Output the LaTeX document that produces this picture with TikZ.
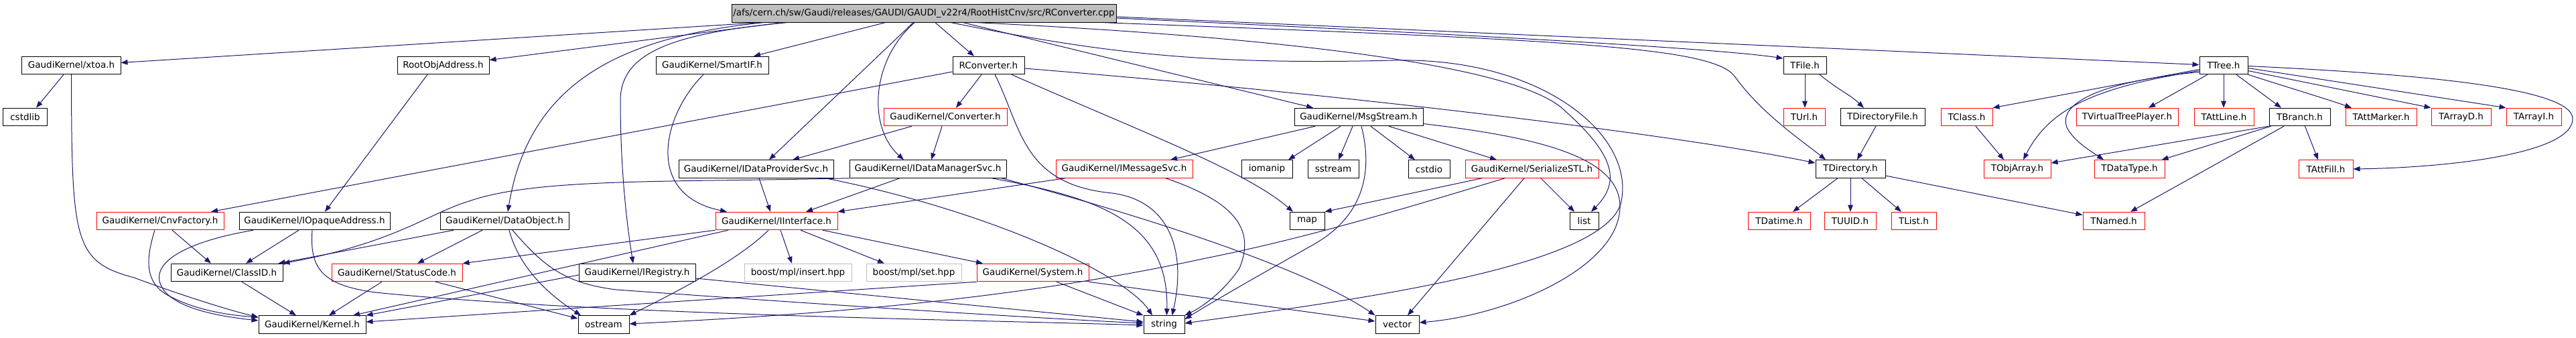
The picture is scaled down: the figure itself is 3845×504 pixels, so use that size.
\documentclass[tikz,border=0pt]{standalone}
\usepackage{fontspec}
\setmainfont{DejaVu Sans}
\usetikzlibrary{arrows.meta}
\definecolor{edgec}{HTML}{191970}
\definecolor{rootfill}{HTML}{BFBFBF}
\definecolor{grayb}{HTML}{BFBFBF}
\definecolor{redb}{HTML}{FF0000}
\begin{document}
\begin{tikzpicture}[x=1bp,y=-1bp,
  box/.style={draw=black,fill=white,line width=1bp,inner sep=0pt,minimum height=26.5bp,
    font=\fontsize{13.5bp}{16bp}\selectfont,text=black},
  redbox/.style={box,draw=redb},
  graybox/.style={box,draw=grayb},
  rootbox/.style={box,fill=rootfill},
  e/.style={draw=edgec,line width=1bp,-{Triangle[length=10bp,width=7.5bp]},fill=none}]
\fill[white] (0,0) rectangle (3845,504);
\useasboundingbox (0,0) rectangle (3845,504);
% row 0
\node[rootbox,minimum width=574bp] (root) at (1379,20) {/afs/cern.ch/sw/Gaudi/releases/GAUDI/GAUDI\_v22r4/RootHistCnv/src/RConverter.cpp};
% row 1
\node[box,minimum width=147bp] (xtoa) at (106.5,97.5) {GaudiKernel/xtoa.h};
\node[box,minimum width=137bp] (roa) at (661.5,97.5) {RootObjAddress.h};
\node[box,minimum width=168bp] (smartif) at (1063,97.5) {GaudiKernel/SmartIF.h};
\node[box,minimum width=107bp] (rch) at (1475.5,97.5) {RConverter.h};
\node[box,minimum width=64bp] (tfile) at (2694,97.5) {TFile.h};
\node[box,minimum width=72bp] (ttree) at (3319,97.5) {TTree.h};
% row 2
\node[box,minimum width=65bp] (cstdlib) at (37.5,174.5) {cstdlib};
\node[redbox,minimum width=184bp] (conv) at (1411,174.5) {GaudiKernel/Converter.h};
\node[box,minimum width=192bp] (msg) at (2028,174.5) {GaudiKernel/MsgStream.h};
\node[redbox,minimum width=62bp] (turl) at (2693,174.5) {TUrl.h};
\node[box,minimum width=126bp] (tdirf) at (2810,174.5) {TDirectoryFile.h};
\node[redbox,minimum width=77bp] (tclass) at (2935.5,174.5) {TClass.h};
\node[redbox,minimum width=152bp] (tvtp) at (3175,174.5) {TVirtualTreePlayer.h};
\node[redbox,minimum width=89bp] (tattline) at (3319.5,174.5) {TAttLine.h};
\node[box,minimum width=91bp] (tbranch) at (3432.5,174.5) {TBranch.h};
\node[redbox,minimum width=106bp] (tattmarker) at (3554,174.5) {TAttMarker.h};
\node[redbox,minimum width=89bp] (tarrayd) at (3673.5,174.5) {TArrayD.h};
\node[redbox,minimum width=82bp] (tarrayi) at (3782,174.5) {TArrayI.h};
% row 3
\node[box,minimum width=231bp] (idp) at (1128.5,252) {GaudiKernel/IDataProviderSvc.h};
\node[box,minimum width=234bp] (idm) at (1385,252) {GaudiKernel/IDataManagerSvc.h};
\node[redbox,minimum width=204bp] (imsg) at (1678,252) {GaudiKernel/IMessageSvc.h};
\node[box,minimum width=76bp] (iomanip) at (1891,252) {iomanip};
\node[box,minimum width=76bp] (sstream) at (1990,252) {sstream};
\node[box,minimum width=62bp] (cstdio) at (2133,252) {cstdio};
\node[redbox,minimum width=199bp] (ser) at (2286.5,252) {GaudiKernel/SerializeSTL.h};
\node[box,minimum width=104bp] (tdir) at (2762,252) {TDirectory.h};
\node[redbox,minimum width=100bp] (tobjarray) at (3011,252) {TObjArray.h};
\node[redbox,minimum width=105bp] (tdatatype) at (3178.5,252) {TDataType.h};
\node[redbox,minimum width=81bp] (tattfill) at (3471.5,252) {TAttFill.h};
% row 4
\node[redbox,minimum width=190bp] (cnvf) at (239,329.5) {GaudiKernel/CnvFactory.h};
\node[box,minimum width=225bp] (iopaque) at (469.5,329.5) {GaudiKernel/IOpaqueAddress.h};
\node[box,minimum width=192bp] (dataobj) at (753,329.5) {GaudiKernel/DataObject.h};
\node[redbox,minimum width=182bp] (iint) at (1159,329.5) {GaudiKernel/IInterface.h};
\node[box,minimum width=52bp] (nmap) at (1951,329.5) {map};
\node[box,minimum width=43bp] (nlist) at (2364.5,329.5) {list};
\node[redbox,minimum width=93bp] (tdatime) at (2655.5,329.5) {TDatime.h};
\node[redbox,minimum width=77bp] (tuuid) at (2761.5,329.5) {TUUID.h};
\node[redbox,minimum width=67bp] (tlist) at (2856.5,329.5) {TList.h};
\node[redbox,minimum width=92bp] (tnamed) at (3155,329.5) {TNamed.h};
% row 5
\node[box,minimum width=167bp] (classid) at (338.5,406.5) {GaudiKernel/ClassID.h};
\node[redbox,minimum width=195bp] (statuscode) at (592.5,406.5) {GaudiKernel/StatusCode.h};
\node[box,minimum width=174bp] (ireg) at (951,406.5) {GaudiKernel/IRegistry.h};
\node[graybox,minimum width=160bp] (bins) at (1191,406.5) {boost/mpl/insert.hpp};
\node[graybox,minimum width=142bp] (bset) at (1364,406.5) {boost/mpl/set.hpp};
\node[redbox,minimum width=167bp] (system) at (1541.5,406.5) {GaudiKernel/System.h};
% row 6
\node[box,minimum width=160bp] (kernel) at (466,484) {GaudiKernel/Kernel.h};
\node[box,minimum width=76bp] (ostream) at (901,484) {ostream};
\node[box,minimum width=61bp] (nstring) at (1737.5,484) {string};
\node[box,minimum width=65bp] (nvector) at (2085.5,484) {vector};

% ---- edges from root
\draw[e] ([xshift=-246bp]root.south) -- ([yshift=4bp]xtoa.east);
\draw[e] ([xshift=-212bp]root.south) -- ([yshift=8bp]roa.east);
\draw[e] ([xshift=-58bp]root.south) -- ([xshift=62bp]smartif.north);
\draw[e] ([xshift=-240bp]root.south) .. controls (930,55) and (790,120) .. ([xshift=5bp]dataobj.north);
\draw[e] ([xshift=-205bp]root.south) .. controls (1000,50) and (926,80) .. (926,150) .. controls (926,250) and (935,330) .. ([xshift=-6bp]ireg.north);
\draw[e] ([xshift=-16bp]root.south) -- ([xshift=19.5bp]idp.north);
\draw[e] ([xshift=-14bp]root.south) .. controls (1300,90) and (1295,190) .. ([xshift=-36bp]idm.north);
\draw[e] ([xshift=17bp]root.south) -- ([xshift=-21.5bp]rch.north);
\draw[e] ([xshift=59bp]root.south) -- ([xshift=-68bp]msg.north);
\draw[e] ([yshift=-7bp]root.east) .. controls (2200,52) and (2560,72) .. ([yshift=10.5bp]tfile.west);
\draw[e] ([yshift=-5bp]root.east) -- ([yshift=1bp]ttree.west);
\draw[e] ([xshift=270bp]root.south) .. controls (2350,60) and (2560,70) .. (2590,115) .. controls (2630,170) and (2690,210) .. ([xshift=-37bp]tdir.north);
\draw[e] ([xshift=81bp]root.south) .. controls (1900,55) and (2250,95) .. (2330,160) .. controls (2410,230) and (2420,270) .. ([xshift=10.5bp]nlist.north);
\draw[e] ([xshift=41bp]root.south) .. controls (1650,80) and (1800,97) .. (2080,90) .. controls (2300,85) and (2440,200) .. (2420,300) .. controls (2400,400) and (2000,450) .. ([yshift=2bp]nstring.east);
% ---- RConverter.h
\draw[e] ([yshift=-9.5bp]rch.west) -- ([xshift=76bp]cnvf.north);
\draw[e] ([xshift=-10.5bp]rch.south) -- ([xshift=16bp]conv.north);
\draw[e] ([xshift=9.5bp]rch.south) .. controls (1525,190) and (1525,275) .. (1660,288) .. controls (1750,300) and (1770,380) .. ([xshift=12bp]nstring.north);
\draw[e] ([xshift=34.5bp]rch.south) .. controls (1700,195) and (1860,255) .. ([xshift=-21bp]nmap.north);
\draw[e] ([yshift=-4.5bp]rch.east) .. controls (2000,140) and (2500,200) .. ([yshift=9bp]tdir.west);
% ---- Converter.h
\draw[e] ([xshift=-50bp]conv.south) -- ([xshift=54.5bp]idp.north);
\draw[e] ([xshift=-5bp]conv.south) -- ([xshift=5bp]idm.north);
% ---- SmartIF, RootObjAddress, xtoa
\draw[e] ([xshift=-13bp]smartif.south) .. controls (990,170) and (960,290) .. ([xshift=-74bp]iint.north);
\draw[e] ([xshift=-23.5bp]roa.south) -- ([xshift=15.5bp]iopaque.north);
\draw[e] ([xshift=-11.5bp]xtoa.south) -- ([xshift=16.5bp]cstdlib.north);
\draw[e] (xtoa.south) .. controls (107,360) and (110,390) .. (200,414) .. controls (270,440) and (340,462) .. ([yshift=11bp]kernel.west);
% ---- CnvFactory
\draw[e] ([xshift=-8bp]cnvf.south) .. controls (218,385) and (215,420) .. (250,440) .. controls (290,462) and (340,470) .. ([yshift=11bp]kernel.west);
\draw[e] ([xshift=18bp]cnvf.south) -- ([xshift=-23.5bp]classid.north);
% ---- IOpaqueAddress
\draw[e] ([xshift=-91.5bp]iopaque.south) .. controls (280,360) and (225,390) .. (240,425) .. controls (255,460) and (330,472) .. ([yshift=6bp]kernel.west);
\draw[e] ([xshift=-23.5bp]iopaque.south) -- ([xshift=28.5bp]classid.north);
\draw[e] ([xshift=-3.5bp]iopaque.south) .. controls (462,400) and (480,425) .. (560,436) .. controls (900,470) and (1500,478) .. ([yshift=-1bp]nstring.west);
% ---- ClassID, StatusCode
\draw[e] ([xshift=22.5bp]classid.south) -- ([xshift=-24bp]kernel.north);
\draw[e] ([xshift=-22.5bp]statuscode.south) -- ([xshift=25bp]kernel.north);
\draw[e] ([xshift=57.5bp]statuscode.south) -- ([yshift=9bp]ostream.west);
% ---- DataObject
\draw[e] ([xshift=-76bp]dataobj.south) -- ([xshift=77bp]classid.north);
\draw[e] ([xshift=-33bp]dataobj.south) -- ([xshift=30.5bp]statuscode.north);
\draw[e] ([xshift=7bp]dataobj.south) .. controls (775,400) and (820,440) .. ([xshift=-34bp]ostream.north);
\draw[e] ([xshift=12bp]dataobj.south) .. controls (810,395) and (840,422) .. (920,432) .. controls (1200,452) and (1500,472) .. ([yshift=2bp]nstring.west);
% ---- IDataManagerSvc -> ClassID
\draw[e] (idm.south west) .. controls (1000,272) and (800,265) .. (700,300) .. controls (640,318) and (590,362) .. (classid.north east);
% ---- IInterface
\draw[e] (iint.south west) -- (statuscode.north east);
\draw[e] ([xshift=-72bp]iint.south) -- ([xshift=61bp]kernel.north);
\draw[e] ([xshift=-12bp]iint.south) .. controls (1100,390) and (1000,440) .. (ostream.north east);
\draw[e] ([xshift=6bp]iint.south) -- ([xshift=-9bp]bins.north);
\draw[e] ([xshift=36bp]iint.south) -- ([xshift=-44bp]bset.north);
\draw[e] ([xshift=69bp]iint.south) -- ([xshift=-74.5bp]system.north);
% ---- IDataProviderSvc
\draw[e] ([xshift=4.5bp]idp.south) -- ([xshift=-9bp]iint.north);
\draw[e] ([xshift=103.5bp]idp.south) .. controls (1480,315) and (1680,410) .. ([xshift=-17.5bp]nstring.north);
% ---- IDataManagerSvc
\draw[e] ([xshift=-42bp]idm.south) -- ([xshift=44bp]iint.north);
\draw[e] ([xshift=95bp]idm.south) .. controls (1640,295) and (1745,330) .. ([xshift=4bp]nstring.north);
\draw[e] ([xshift=110bp]idm.south) .. controls (1700,320) and (1950,400) .. (nvector.north west);
% ---- IMessageSvc
\draw[e] ([xshift=-88bp]imsg.south) -- (iint.north east);
\draw[e] ([xshift=62bp]imsg.south) .. controls (1840,300) and (1875,340) .. (1850,400) .. controls (1830,430) and (1800,455) .. (nstring.north east);
% ---- MsgStream
\draw[e] ([xshift=-65bp]msg.south) -- ([xshift=69bp]imsg.north);
\draw[e] ([xshift=-27bp]msg.south) -- ([xshift=32bp]iomanip.north);
\draw[e] ([xshift=-9bp]msg.south) -- ([xshift=8bp]sstream.north);
\draw[e] ([xshift=4bp]msg.south) .. controls (2048,250) and (2040,320) .. (1960,365) .. controls (1880,410) and (1810,450) .. ([yshift=8bp]nstring.east);
\draw[e] ([xshift=18bp]msg.south) -- ([xshift=-21bp]cstdio.north);
\draw[e] ([xshift=45bp]msg.south) -- ([xshift=-52.5bp]ser.north);
\draw[e] ([yshift=-10bp]msg.east) .. controls (2300,205) and (2420,235) .. (2418,310) .. controls (2415,400) and (2250,470) .. ([yshift=3bp]nvector.east);
% ---- SerializeSTL
\draw[e] ([xshift=-74.5bp]ser.south) -- (nmap.north east);
\draw[e] ([xshift=-40.5bp]ser.south) .. controls (2100,310) and (1950,355) .. (1800,385) .. controls (1500,450) and (1200,470) .. ([yshift=1bp]ostream.east);
\draw[e] ([xshift=-11.5bp]ser.south) -- ([xshift=15.5bp]nvector.north);
\draw[e] ([xshift=13.5bp]ser.south) -- ([xshift=-14.5bp]nlist.north);
% ---- System
\draw[e] ([xshift=35.5bp]system.south) -- (nstring.north west);
\draw[e] (system.south east) -- ([yshift=5bp]nvector.west);
\draw[e] (system.south west) -- ([yshift=4bp]kernel.east);
% ---- IRegistry
\draw[e] ([yshift=-3.5bp]ireg.west) -- (kernel.north east);
\draw[e] ([yshift=-8.5bp]ireg.east) -- ([yshift=4bp]nstring.west);
% ---- TFile / TDirectory
\draw[e] (tfile.south) -- (tfile.south |- turl.north);
\draw[e] ([xshift=22bp]tfile.south) .. controls (2745,135) and (2760,140) .. ([xshift=-28bp]tdirf.north);
\draw[e] ([xshift=-10bp]tdirf.south) -- ([xshift=10bp]tdir.north);
\draw[e] ([xshift=-19bp]tdir.south) -- ([xshift=20.5bp]tdatime.north);
\draw[e] (tdir.south) -- (tdir.south |- tuuid.north);
\draw[e] ([xshift=17bp]tdir.south) -- ([xshift=-18.5bp]tlist.north);
\draw[e] ([yshift=-10bp]tdir.east) -- ([yshift=9bp]tnamed.west);
% ---- TTree
\draw[e] ([yshift=-6bp]ttree.west) -- (tclass.north east);
\draw[e] ([yshift=-8bp]ttree.west) .. controls (3130,130) and (3060,160) .. ([xshift=9bp]tobjarray.north);
\draw[e] ([yshift=-10bp]ttree.west) .. controls (3150,120) and (3070,150) .. (3085,190) .. controls (3095,210) and (3120,225) .. ([xshift=-38.5bp]tdatatype.north);
\draw[e] ([xshift=-24bp]ttree.south) -- ([xshift=32bp]tvtp.north);
\draw[e] (ttree.south) -- (ttree.south |- tattline.north);
\draw[e] ([xshift=19bp]ttree.south) -- ([xshift=-27.5bp]tbranch.north);
\draw[e] (ttree.south east) .. controls (3430,135) and (3480,150) .. ([xshift=-44bp]tattmarker.north);
\draw[e] ([yshift=-8bp]ttree.east) -- (tarrayd.north west);
\draw[e] ([yshift=-4bp]ttree.east) -- (tarrayi.north west);
\draw[e] ([yshift=-1bp]ttree.east) .. controls (3600,110) and (3840,130) .. (3840,177) .. controls (3840,230) and (3650,250) .. (tattfill.east);
% ---- TBranch, TClass
\draw[e] (tbranch.south west) -- ([yshift=9bp]tobjarray.east);
\draw[e] ([xshift=-43bp]tbranch.south) -- ([xshift=48bp]tdatatype.north);
\draw[e] ([xshift=-23.5bp]tbranch.south) -- ([xshift=25bp]tnamed.north);
\draw[e] ([xshift=8bp]tbranch.south) -- ([xshift=-11.5bp]tattfill.north);
\draw[e] ([xshift=13.5bp]tclass.south) -- ([xshift=-20bp]tobjarray.north);
\end{tikzpicture}
\end{document}
